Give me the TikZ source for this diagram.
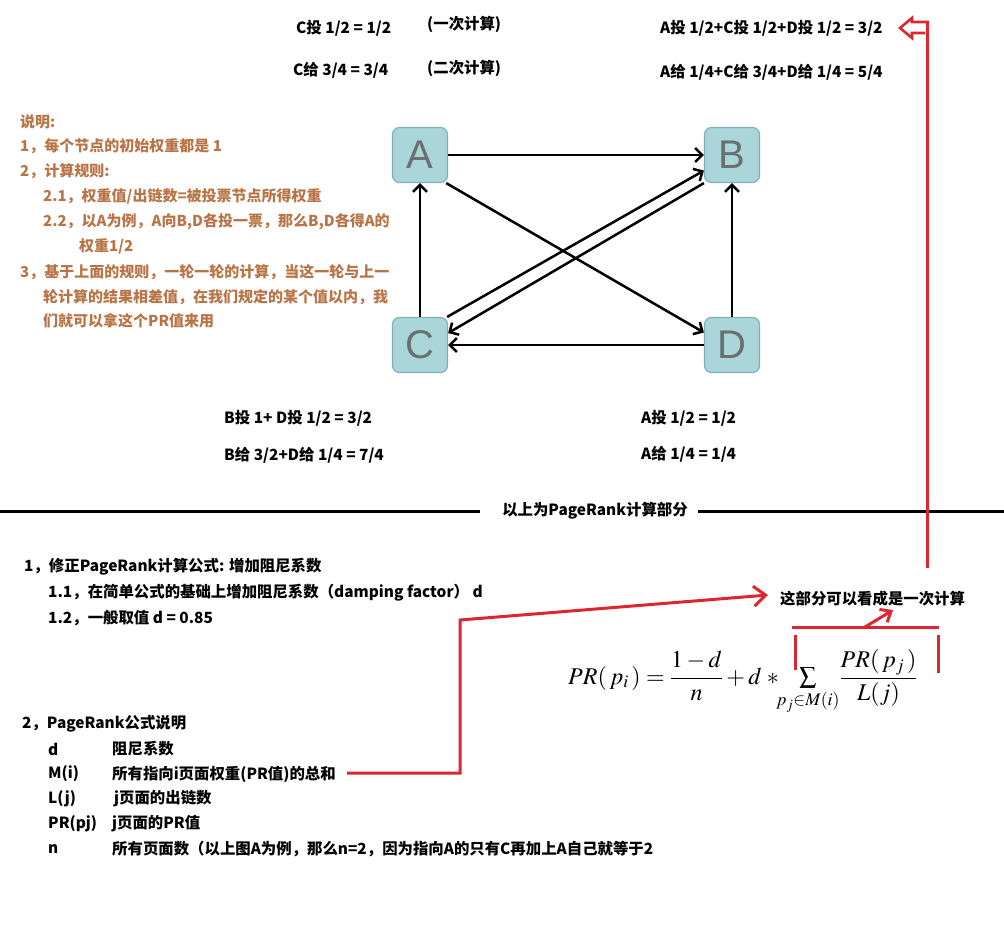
\documentclass[tikz,border=0pt]{standalone}
\usepackage{mathptmx}
\usepackage[no-math]{fontspec}
\setmainfont{Noto Sans CJK SC}
\newfontfamily\lettfont{Liberation Sans}
\usetikzlibrary{arrows.meta}
\definecolor{orangetxt}{RGB}{184,116,70}
\definecolor{redline}{RGB}{221,38,48}
\definecolor{nodefill}{RGB}{170,213,217}
\definecolor{nodeborder}{RGB}{130,178,184}
\definecolor{lettergray}{RGB}{105,112,114}
\tikzset{
  txt/.style={anchor=west, inner sep=0pt, font=\fontsize{15.4}{18}\selectfont\bfseries},
  otxt/.style={txt, text=orangetxt, font=\fontsize{15}{18}\selectfont\bfseries},
  gnode/.style={draw=nodeborder, fill=nodefill, rounded corners=7pt, minimum size=55pt,
    line width=1.2pt, font=\lettfont\fontsize{40}{40}\selectfont, text=lettergray, inner sep=0pt},
  garrow/.style={line width=2.5pt, -{Straight Barb[length=7pt,width=14pt]}},
  redpath/.style={draw=redline, line width=3pt},
  redarrow/.style={redpath, -{Straight Barb[length=12pt,width=20pt]}},
  sepline/.style={line width=3pt}
}
\begin{document}
\begin{tikzpicture}[x=1pt,y=-1pt]
\useasboundingbox (0,0) rectangle (1004,938);

% top texts
\node[txt] (t1) at (296,28) {C投 1/2 = 1/2};
\node[txt] (t2) at (427,24) {(一次计算)};
\node[txt] (t3) at (293,70) {C给 3/4 = 3/4};
\node[txt] (t4) at (427,68) {(二次计算)};
\node[txt] (t5) at (660,28) {A投 1/2+C投 1/2+D投 1/2 = 3/2};
\node[txt] (t6) at (660,72) {A给 1/4+C给 3/4+D给 1/4 = 5/4};

% orange notes
\node[otxt] (o1) at (20,122) {说明:};
\node[otxt] (o2) at (20,146) {1，每个节点的初始权重都是 1};
\node[otxt] (o3) at (20,171) {2，计算规则:};
\node[otxt] (o4) at (43,196) {2.1，权重值/出链数=被投票节点所得权重};
\node[otxt] (o5) at (43,222) {2.2，以A为例，A向B,D各投一票，那么B,D各得A的};
\node[otxt] (o6) at (79,246) {权重1/2};
\node[otxt] (o7) at (20,272) {3，基于上面的规则，一轮一轮的计算，当这一轮与上一};
\node[otxt] (o8) at (43,297) {轮计算的结果相差值，在我们规定的某个值以内，我};
\node[otxt] (o9) at (43,321) {们就可以拿这个PR值来用};

% graph
\node[gnode] (A) at (420,155) {A};
\node[gnode] (B) at (732,155) {B};
\node[gnode] (C) at (420,345) {C};
\node[gnode] (D) at (732,345) {D};
\draw[garrow] (A.east) -- (B.west);
\draw[garrow] (A.-47) -- (D.156);
\draw[garrow] (C.46) -- (B.209);
\draw[garrow] (B.225) -- (C.23);
\draw[garrow] (D.west) -- (C.east);
\draw[garrow] (C.north) -- (A.south);
\draw[garrow] (D.north) -- (B.south);

% below graph
\node[txt] (b1) at (224,418) {B投 1+ D投 1/2 = 3/2};
\node[txt] (b2) at (224,455) {B给 3/2+D给 1/4 = 7/4};
\node[txt] (b3) at (641,418) {A投 1/2 = 1/2};
\node[txt] (b4) at (641,454) {A给 1/4 = 1/4};

% separator
\node[txt, anchor=center] (sep) at (595,511) {以上为PageRank计算部分};
\coordinate (sl) at (0,511);
\coordinate (sr) at (1004,511);
\draw[sepline] (sl) -- ([xshift=-22pt]sep.west);
\draw[sepline] ([xshift=10pt]sep.east) -- (sr);

% bottom texts
\node[txt] (p1) at (24,567) {1，修正PageRank计算公式: 增加阻尼系数};
\node[txt] (p2) at (48,593) {1.1，在简单公式的基础上增加阻尼系数（damping factor） d};
\node[txt] (p3) at (48,618) {1.2，一般取值 d = 0.85};
\node[txt] (q0) at (22,724) {2，PageRank公式说明};
\node[txt] (q1) at (48,749) {d};
\node[txt] (q1d) at (112,749) {阻尼系数};
\node[txt] (q2) at (48,774) {M(i)};
\node[txt] (q2d) at (112,774) {所有指向i页面权重(PR值)的总和};
\node[txt] (q3) at (48,799) {L(j)};
\node[txt] (q3d) at (114,799) {j页面的出链数};
\node[txt] (q4) at (48,824) {PR(pj)};
\node[txt] (q4d) at (112,824) {j页面的PR值};
\node[txt] (q5) at (48,849) {n};
\node[txt] (q5d) at (112,849) {所有页面数（以上图A为例，那么n=2，因为指向A的只有C再加上A自己就等于2};

% note and formula
\node[txt] (note) at (780,599) {这部分可以看成是一次计算};
\node[anchor=west, inner sep=0pt, font=\fontsize{24}{28}\selectfont] (formula) at (568,682)
  {$\displaystyle PR(\,p_i\,)=\frac{1-d}{n}+d\;{\ast}\!{\textstyle\sum\limits_{p_j\in M(i)}}\frac{PR(\,p_j\,)}{L(j)}$};

% red connectors
\coordinate (r0) at (347,773);
\coordinate (r1) at (460,773);
\coordinate (r2) at (460,620);
\coordinate (r3) at (768,595);
\draw[redarrow, line join=miter] (r0) -- (r1) -- (r2) -- (r3);

\coordinate (k1) at (795,670);
\coordinate (k2) at (795,635);
\coordinate (k3) at (792,627);
\coordinate (k4) at (939,627);
\coordinate (k5) at (938,635);
\coordinate (k6) at (938,673);
\draw[redpath] (k1) -- (k2);
\draw[redpath] (k3) -- (k4);
\draw[redpath] (k5) -- (k6);
\coordinate (s1) at (865,627);
\coordinate (s2) at (893,610);
\draw[redpath, -{Straight Barb[length=9pt,width=15pt]}] (s1) -- (s2);

\coordinate (v0) at (927,568);
\coordinate (v1) at (927,21);
\draw[redpath] (v0) -- (v1);
\draw[draw=redline, line width=2.6pt, line join=miter]
  (929,22) -- (912,22) -- (912,18) -- (900,28) -- (912,38) -- (912,33) -- (925,33);
\end{tikzpicture}
\end{document}
